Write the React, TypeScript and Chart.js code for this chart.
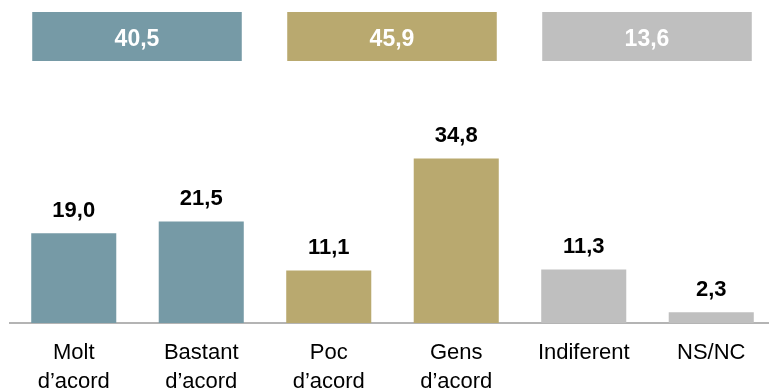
import React, { useEffect, useRef } from "react";
import { Chart, registerables } from "chart.js";

Chart.register(...registerables);

const categories: string[][] = [
  ["Molt", "d’acord"],
  ["Bastant", "d’acord"],
  ["Poc", "d’acord"],
  ["Gens", "d’acord"],
  ["Indiferent"],
  ["NS/NC"],
];
const values: number[] = [19.0, 21.5, 11.1, 34.8, 11.3, 2.3];

const TEAL = "#769AA6";
const GOLD = "#B9A96F";
const GRAY = "#BFBFBF";
const barColors: string[] = [TEAL, TEAL, GOLD, GOLD, GRAY, GRAY];

const groupTotals: number[] = [40.5, 45.9, 13.6];
const groupFirst: number[] = [0, 2, 4];
const groupLast: number[] = [1, 3, 5];
const groupColors: string[] = [TEAL, GOLD, GRAY];

const FONT = '"Liberation Sans", Arial, Helvetica, sans-serif';
const fmt = (v: number) => v.toFixed(1).replace(".", ",");

const labelsPlugin = {
  id: "valueLabels",
  afterDatasetsDraw(chart: any) {
    const ctx = chart.ctx;
    const meta = chart.getDatasetMeta(0);
    ctx.save();
    ctx.font = `bold 22px ${FONT}`;
    ctx.fillStyle = "#000";
    ctx.textAlign = "center";
    ctx.textBaseline = "alphabetic";
    meta.data.forEach((bar: any, i: number) => {
      ctx.fillText(fmt(values[i]), bar.x, bar.y - 16.5);
    });
    // group boxes at top
    groupTotals.forEach((tot, gi) => {
      const b0 = meta.data[groupFirst[gi]];
      const b1 = meta.data[groupLast[gi]];
      const left = b0.x - b0.width / 2 + 1;
      const right = b1.x + b1.width / 2 - 2;
      ctx.fillStyle = groupColors[gi];
      ctx.fillRect(left, 12, right - left, 49);
      ctx.fillStyle = "#fff";
      ctx.font = `bold 23px ${FONT}`;
      ctx.fillText(fmt(tot), (left + right) / 2, 46);
    });
    ctx.restore();
  },
};

export default function App() {
  const ref = useRef<HTMLCanvasElement | null>(null);
  useEffect(() => {
    if (!ref.current) return;
    const chart = new Chart(ref.current, {
      type: "bar",
      data: {
        labels: categories,
        datasets: [
          {
            data: values,
            backgroundColor: barColors,
            borderWidth: 0,
            categoryPercentage: 1,
            barPercentage: 0.667,
          },
        ],
      },
      options: {
        responsive: false,
        animation: false,
        layout: { padding: { left: 10, right: 0, top: 134, bottom: 0 } },
        plugins: {
          legend: { display: false },
          tooltip: { enabled: false },
        },
        scales: {
          y: { display: false, min: 0, max: 40 },
          x: {
            grid: { display: false, drawTicks: false },
            border: { display: true, color: "#B4B4B4", width: 2 },
            ticks: {
              color: "#000",
              padding: 15,
              autoSkip: false,
              maxRotation: 0,
              font: { family: FONT, size: 22, lineHeight: 1.32 },
            },
            afterFit: (scale: any) => {
              scale.height = 68;
            },
          },
        },
      },
      plugins: [labelsPlugin],
    });
    return () => chart.destroy();
  }, []);
  return (
    <div
      style={{
        position: "fixed",
        top: 0,
        left: 0,
        width: 769,
        height: 391,
        overflow: "hidden",
        background: "#fff",
      }}
    >
      <canvas ref={ref} width={775} height={391} style={{ display: "block" }} />
    </div>
  );
}
